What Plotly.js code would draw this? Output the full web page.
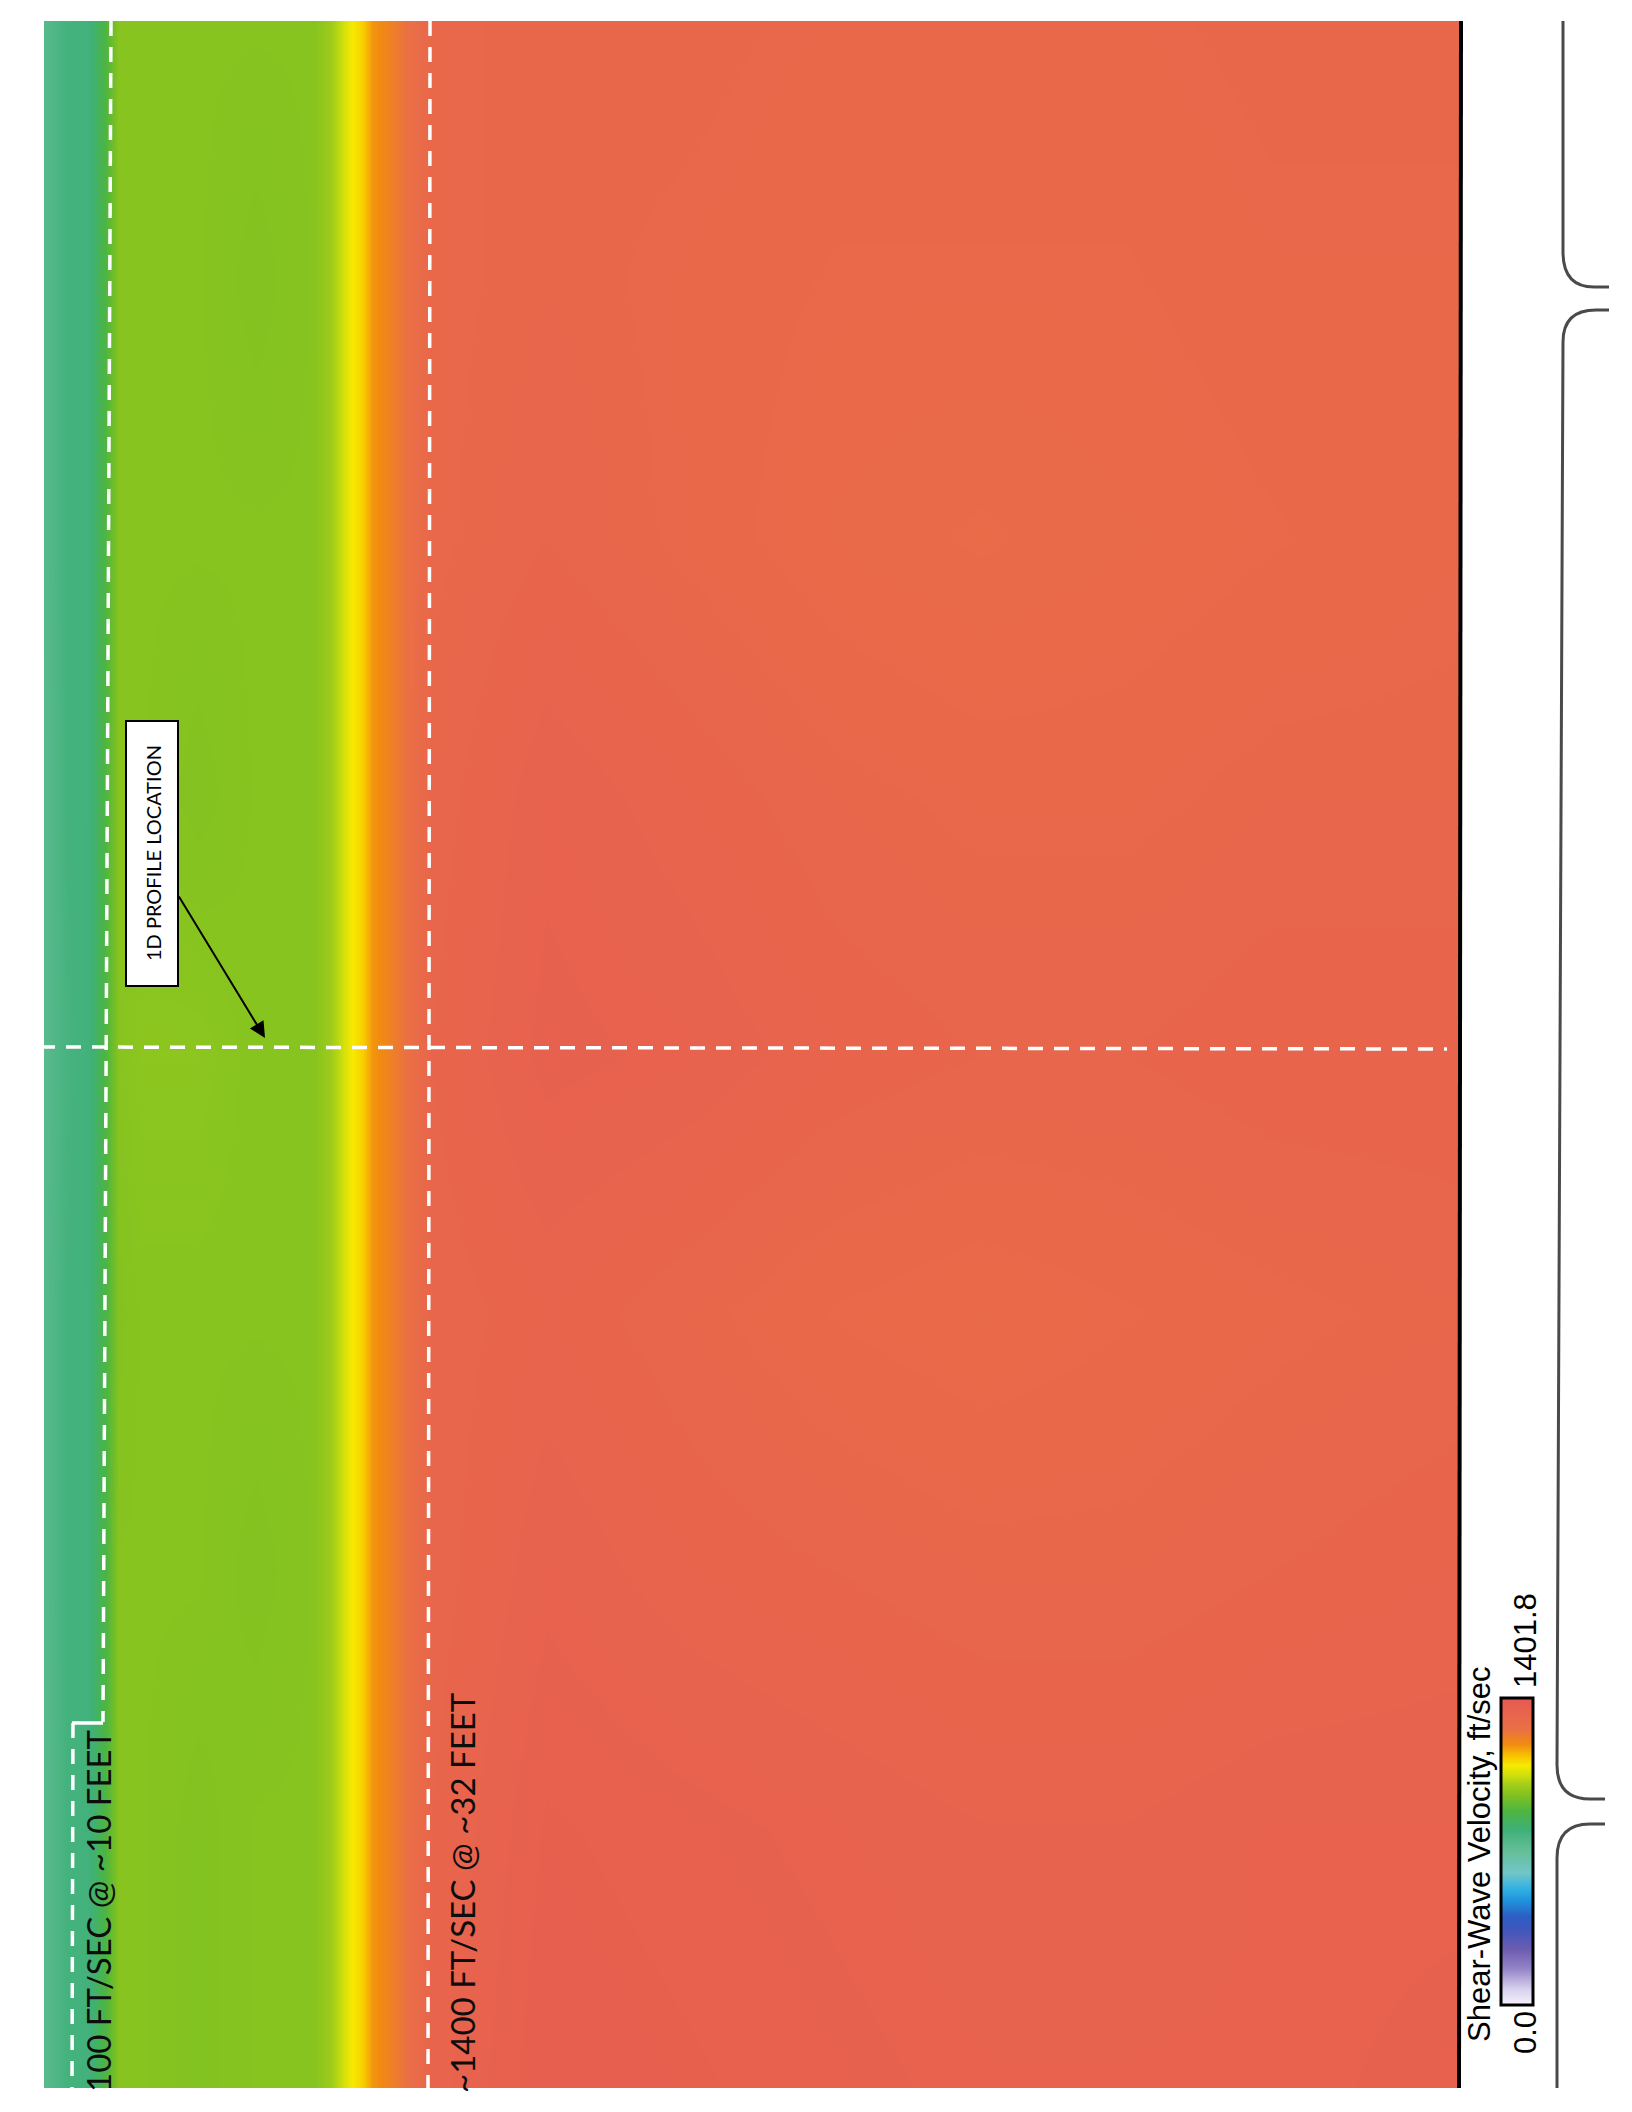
<!DOCTYPE html>
<html>
<head>
<meta charset="utf-8">
<script src="https://cdn.plot.ly/plotly-3.0.1.min.js"></script>
<style>
html,body{margin:0;padding:0;background:#ffffff;}
#chart{width:1632px;height:2112px;}
</style>
</head>
<body>
<div id="chart"></div>
<script>
// ---- data ----
// depth below surface, ft (horizontal direction of the rotated page)
const depthFt = [5.5, 7, 8.5, 9.5, 10.5, 12, 16, 20, 24, 25.1, 26, 26.6, 27.3, 28, 29, 30.5, 32, 40, 50, 60, 70, 80, 90, 102.6];
// position along the line (vertical direction of the rotated page)
const stationFt = [0, 12.5, 25, 37.5, 50, 62.5, 75, 87.5, 100];
// shear-wave velocity, ft/sec, one row per station
const vsSta0    = [736, 785, 792, 876, 967, 967, 960, 967, 967, 995, 1051, 1093, 1121, 1178, 1206, 1262, 1332, 1367, 1360, 1353, 1346, 1346, 1346, 1353];
const vsSta12   = [736, 785, 792, 876, 967, 967, 960, 967, 967, 995, 1051, 1093, 1121, 1178, 1206, 1262, 1325, 1360, 1353, 1346, 1339, 1339, 1346, 1346];
const vsSta25   = [743, 785, 792, 869, 967, 967, 967, 960, 967, 995, 1051, 1093, 1121, 1178, 1206, 1262, 1318, 1346, 1332, 1325, 1318, 1318, 1325, 1332];
const vsSta37   = [743, 785, 792, 869, 960, 967, 967, 967, 967, 995, 1051, 1093, 1121, 1178, 1206, 1262, 1318, 1332, 1318, 1304, 1297, 1304, 1311, 1318];
const vsSta50   = [736, 778, 792, 876, 967, 974, 974, 967, 967, 995, 1051, 1093, 1121, 1178, 1206, 1262, 1325, 1353, 1346, 1332, 1325, 1325, 1332, 1332];
const vsSta62   = [736, 785, 792, 876, 967, 967, 960, 967, 967, 995, 1051, 1093, 1121, 1178, 1206, 1262, 1318, 1346, 1332, 1318, 1311, 1311, 1318, 1318];
const vsSta75   = [743, 785, 792, 876, 967, 967, 967, 967, 967, 995, 1051, 1093, 1121, 1178, 1206, 1262, 1311, 1325, 1311, 1297, 1290, 1297, 1304, 1311];
const vsSta87   = [743, 785, 792, 876, 967, 967, 967, 960, 967, 995, 1051, 1093, 1121, 1178, 1206, 1262, 1311, 1318, 1311, 1304, 1304, 1304, 1311, 1311];
const vsSta100  = [743, 785, 792, 876, 967, 967, 967, 967, 967, 995, 1051, 1093, 1121, 1178, 1206, 1262, 1311, 1318, 1318, 1311, 1311, 1311, 1318, 1318];

const vsMin = 0.0;
const vsMax = 1401.8;
const colorbarTitle = 'Shear-Wave Velocity, ft/sec';
const minLabel = '0.0';
const maxLabel = '1401.8';
const label10 = '100 FT/SEC @ ~10 FEET';
const label32 = '~1400 FT/SEC @ ~32 FEET';
const profileLabel = '1D PROFILE LOCATION';

const vsRows = [vsSta0, vsSta12, vsSta25, vsSta37, vsSta50, vsSta62, vsSta75, vsSta87, vsSta100];

// ---- page geometry helpers (pixels -> paper) ----
const W = 1632, H = 2112;
const L = 44, R = 1461, T = 21, B = 2088;
const PW = R - L, PH = B - T;
const px = v => (v - L) / PW;
const py = v => (B - v) / PH;
const pt = (a, b) => px(a).toFixed(5) + ',' + py(b).toFixed(5);

const colorscale = [
  [0.00, '#f4f2fb'], [0.05, '#d9d2ee'], [0.12, '#9282c6'], [0.18, '#6d5db0'],
  [0.24, '#4256bb'], [0.29, '#2c5fc4'], [0.34, '#1f93dc'], [0.38, '#33b2e2'],
  [0.43, '#72c6c8'], [0.50, '#66bf98'], [0.57, '#3fb079'], [0.63, '#4cb542'],
  [0.68, '#7dc022'], [0.72, '#a6cf18'], [0.75, '#d2e00c'], [0.78, '#f6ea00'],
  [0.81, '#f8c400'], [0.85, '#f18a12'], [0.90, '#ea6f46'], [1.00, '#e65a52']
];

const trace = {
  type: 'heatmap',
  x: depthFt,
  y: stationFt,
  z: vsRows,
  zmin: vsMin,
  zmax: vsMax,
  zsmooth: 'best',
  colorscale: colorscale,
  hoverinfo: 'skip',
  colorbar: {
    x: px(1501), xanchor: 'left', xpad: 0,
    y: py(1851.5), yanchor: 'middle', ypad: 0,
    len: 307, lenmode: 'pixels',
    thickness: 32, thicknessmode: 'pixels',
    outlinewidth: 3, outlinecolor: '#000000',
    showticklabels: false, ticks: '',
    borderwidth: 0
  }
};

const white = '#ffffff';
const dashStyle = {color: white, width: 3.5, dash: '15px,11px'};
const braceLine = {color: '#4a4a4a', width: 3};

const shapes = [
  // dashed vertical at ~10 ft (upper part)
  {type: 'line', xref: 'paper', yref: 'paper', x0: px(111), y0: py(21), x1: px(103), y1: py(1722), line: dashStyle},
  // jog to label
  {type: 'line', xref: 'paper', yref: 'paper', x0: px(72), y0: py(1723), x1: px(103), y1: py(1723), line: {color: white, width: 3.5}},
  {type: 'line', xref: 'paper', yref: 'paper', x0: px(73), y0: py(1723), x1: px(72), y1: py(2088), line: dashStyle},
  // dashed vertical at ~32 ft
  {type: 'line', xref: 'paper', yref: 'paper', x0: px(430), y0: py(21), x1: px(428), y1: py(2088), line: dashStyle},
  // dashed horizontal (1D profile location)
  {type: 'line', xref: 'paper', yref: 'paper', x0: px(40), y0: py(1047), x1: px(1447), y1: py(1049), line: dashStyle},
  // right black frame edge
  {type: 'line', xref: 'paper', yref: 'paper', x0: px(1461), y0: py(21), x1: px(1459), y1: py(2088), line: {color: '#000000', width: 4}},
  // label box
  {type: 'rect', xref: 'paper', yref: 'paper', x0: px(126), y0: py(721), x1: px(178), y1: py(986),
   fillcolor: white, line: {color: '#000000', width: 2}},
  // page-tab braces on the right
  {type: 'path', xref: 'paper', yref: 'paper', line: braceLine,
   path: 'M' + pt(1563, 21) + ' L' + pt(1563, 252) + ' Q' + pt(1563, 287) + ' ' + pt(1594, 287) + ' L' + pt(1609, 287)},
  {type: 'path', xref: 'paper', yref: 'paper', line: braceLine,
   path: 'M' + pt(1609, 310) + ' L' + pt(1596, 310) + ' Q' + pt(1563, 310) + ' ' + pt(1563, 342) +
         ' L' + pt(1557, 1765) + ' Q' + pt(1557, 1799) + ' ' + pt(1590, 1799) + ' L' + pt(1605, 1799)},
  {type: 'path', xref: 'paper', yref: 'paper', line: braceLine,
   path: 'M' + pt(1605, 1824) + ' L' + pt(1590, 1824) + ' Q' + pt(1557, 1824) + ' ' + pt(1557, 1858) + ' L' + pt(1557, 2088)}
];

const txt = '#0d0d0d';
const annotations = [
  {xref: 'paper', yref: 'paper', x: px(98), y: py(1911), text: label10, showarrow: false, textangle: -90,
   xanchor: 'center', yanchor: 'middle', font: {family: 'Lato, sans-serif', size: 33, color: txt}},
  {xref: 'paper', yref: 'paper', x: px(462), y: py(1893), text: label32, showarrow: false, textangle: -90,
   xanchor: 'center', yanchor: 'middle', font: {family: 'Lato, sans-serif', size: 33, color: txt}},
  {xref: 'paper', yref: 'paper', x: px(153), y: py(853), text: profileLabel, showarrow: false, textangle: -90,
   xanchor: 'center', yanchor: 'middle', font: {family: 'Lato, sans-serif', size: 20, color: '#000000'}},
  // arrow to profile location
  {xref: 'paper', yref: 'paper', x: px(265), y: py(1038), ax: -87, ay: -143, text: '', showarrow: true,
   arrowhead: 2, arrowsize: 1.6, arrowwidth: 2, arrowcolor: '#000000', standoff: 0, startstandoff: 0,
   font: {size: 1}},
  // colorbar title and end labels
  {xref: 'paper', yref: 'paper', x: px(1479), y: py(1854), text: colorbarTitle, showarrow: false, textangle: -90,
   xanchor: 'center', yanchor: 'middle', font: {family: 'Liberation Sans, Arial, sans-serif', size: 31, color: '#000000'}},
  {xref: 'paper', yref: 'paper', x: px(1525), y: py(2033), text: minLabel, showarrow: false, textangle: -90,
   xanchor: 'center', yanchor: 'middle', font: {family: 'Liberation Sans, Arial, sans-serif', size: 31, color: '#000000'}},
  {xref: 'paper', yref: 'paper', x: px(1525), y: py(1641), text: maxLabel, showarrow: false, textangle: -90,
   xanchor: 'center', yanchor: 'middle', font: {family: 'Liberation Sans, Arial, sans-serif', size: 31, color: '#000000'}}
];

const layout = {
  width: W, height: H,
  margin: {l: L, r: W - R, t: T, b: H - B, pad: 0},
  paper_bgcolor: white, plot_bgcolor: white,
  showlegend: false,
  xaxis: {range: [5.38, 103.1], visible: false, fixedrange: true},
  yaxis: {range: [0, 100], visible: false, fixedrange: true},
  shapes: shapes,
  annotations: annotations
};

Plotly.newPlot('chart', [trace], layout, {staticPlot: true, displayModeBar: false});
</script>
</body>
</html>
